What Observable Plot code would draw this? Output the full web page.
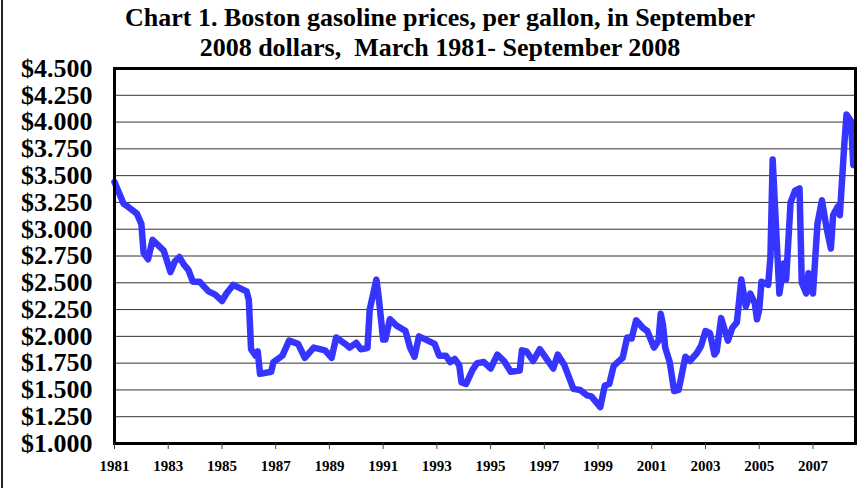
<!DOCTYPE html>
<html>
<head>
<meta charset="utf-8">
<script src="https://cdn.jsdelivr.net/npm/d3@7"></script>
<script src="https://cdn.jsdelivr.net/npm/@observablehq/plot@0.6"></script>
<style>
html, body { margin: 0; padding: 0; background: #fff; }
#wrap { position: relative; width: 866px; height: 488px; overflow: hidden; background: #fff; }
#wrap svg { position: absolute; left: 0; top: 0; }
#frameL { position: absolute; left: 1px; top: 0; width: 0; height: 488px; border-left: 2px solid #222; }
.title { position: absolute; left: 7px; width: 866px; text-align: center;
  font-family: "Liberation Serif", "Times New Roman", serif; font-weight: bold;
  font-size: 26px; line-height: 30px; white-space: pre; color: #000; }
</style>
</head>
<body>
<div id="wrap">
  <div id="frameL"></div>
  <div class="title" style="top:3px">Chart 1. Boston gasoline prices, per gallon, in September</div>
  <div class="title" style="top:33px">2008 dollars,  March 1981- September 2008</div>
</div>
<script>
const months = [
  "1981-03","1981-07","1981-09","1982-01","1982-03","1982-04","1982-06","1982-08",
  "1983-01","1983-04","1983-06","1983-08","1983-10","1983-12","1984-02","1984-05",
  "1984-09","1984-12","1985-03","1985-05","1985-08","1985-11","1986-02","1986-03",
  "1986-04","1986-06","1986-07","1986-08","1987-01","1987-02","1987-06","1987-09",
  "1988-01","1988-04","1988-08","1989-01","1989-04","1989-06","1989-10","1989-12",
  "1990-03","1990-05","1990-08","1990-09","1990-12","1991-01","1991-03","1991-04",
  "1991-06","1991-09","1992-01","1992-03","1992-05","1992-07","1992-11","1993-02",
  "1993-04","1993-07","1993-09","1993-11","1994-01","1994-02","1994-04","1994-07",
  "1994-09","1994-12","1995-03","1995-06","1995-09","1995-12","1996-04","1996-05",
  "1996-07","1996-10","1997-01","1997-04","1997-07","1997-09","1997-12","1998-04",
  "1998-07","1998-10","1998-12","1999-04","1999-06","1999-08","1999-10","2000-02",
  "2000-04","2000-06","2000-08","2000-11","2001-01","2001-04","2001-06","2001-07",
  "2001-08","2001-09","2001-11","2002-01","2002-03","2002-06","2002-08","2002-11",
  "2003-01","2003-03","2003-05","2003-07","2003-08","2003-10","2004-01","2004-03",
  "2004-05","2004-07","2004-09","2004-11","2005-01","2005-02","2005-03","2005-04",
  "2005-07","2005-08","2005-09","2005-11","2005-12","2006-02","2006-03","2006-05",
  "2006-07","2006-09","2006-10","2006-12","2007-01","2007-03","2007-05","2007-07",
  "2007-09","2007-11","2007-12","2008-02","2008-03","2008-05","2008-06","2008-08",
  "2008-09"
];
const prices = [
  3.44, 3.24, 3.21, 3.145, 3.05, 2.78, 2.72, 2.90,
  2.80, 2.60, 2.70, 2.74, 2.67, 2.62, 2.51, 2.51,
  2.42, 2.39, 2.33, 2.40, 2.48, 2.45, 2.42, 2.34,
  1.88, 1.82, 1.86, 1.65, 1.67, 1.76, 1.82, 1.96,
  1.93, 1.80, 1.895, 1.87, 1.80, 1.99, 1.93, 1.895,
  1.94, 1.88, 1.89, 2.25, 2.53, 2.37, 1.97, 1.97,
  2.16, 2.10, 2.05, 1.895, 1.81, 2.00, 1.96, 1.93,
  1.82, 1.82, 1.76, 1.79, 1.73, 1.57, 1.555, 1.69,
  1.75, 1.76, 1.70, 1.83, 1.77, 1.67, 1.68, 1.87,
  1.86, 1.77, 1.88, 1.79, 1.70, 1.83, 1.73, 1.51,
  1.50, 1.45, 1.44, 1.34, 1.54, 1.555, 1.725, 1.80,
  1.99, 1.98, 2.15, 2.08, 2.05, 1.895, 1.96, 2.21,
  2.11, 1.895, 1.76, 1.49, 1.50, 1.81, 1.77, 1.84,
  1.91, 2.05, 2.03, 1.83, 1.86, 2.17, 1.96, 2.08,
  2.13, 2.53, 2.28, 2.40, 2.31, 2.16, 2.25, 2.51,
  2.48, 2.74, 3.65, 2.81, 2.40, 2.68, 2.53, 3.25,
  3.36, 3.38, 2.50, 2.40, 2.59, 2.40, 3.05, 3.27,
  3.02, 2.82, 3.13, 3.21, 3.13, 3.79, 4.07, 4.01,
  3.60
];
// Axis tick labels
const xTickYears = [1981, 1983, 1985, 1987, 1989, 1991, 1993, 1995, 1997, 1999, 2001, 2003, 2005, 2007];
const yTickValues = [1.00, 1.25, 1.50, 1.75, 2.00, 2.25, 2.50, 2.75, 3.00, 3.25, 3.50, 3.75, 4.00, 4.25, 4.50];

// Category axis: months counted from March 1981 (first category)
const monthIndex = s => { const [y, m] = s.split("-").map(Number); return (y - 1981) * 12 + (m - 3); };
const data = months.map((m, i) => ({ t: monthIndex(m), price: prices[i] }));
const xTicks = xTickYears.map(y => (y - 1981) * 12);

const serif = "'Liberation Serif', 'Times New Roman', serif";

const chart = Plot.plot({
  width: 866,
  height: 488,
  marginLeft: 114,
  marginRight: 11,
  marginTop: 68,
  marginBottom: 45,
  style: { fontFamily: serif, background: "transparent", overflow: "visible" },
  x: { type: "linear", domain: [0, 331], label: null },
  y: { domain: [1, 4.5], label: null },
  marks: [
    Plot.ruleY(yTickValues.slice(1, -1), { stroke: "#333", strokeWidth: 1 }),
    Plot.line(data, { x: "t", y: "price", stroke: "#3535ff", strokeWidth: 6.5,
      strokeLinejoin: "round", strokeLinecap: "round" }),
    Plot.frame({ stroke: "#000", strokeWidth: 3 }),
    Plot.axisY({ ticks: yTickValues, tickSize: 0, tickPadding: 22, label: null,
      tickFormat: d => "$" + d.toFixed(3), fontSize: 26, fontWeight: "bold", fill: "#000" }),
    Plot.axisX({ ticks: xTicks, tickSize: 6, tickPadding: 11, stroke: "#444", label: null,
      tickFormat: d => String(1981 + d / 12), fontSize: 15, fontWeight: "bold", fill: "#000" })
  ]
});
document.getElementById("wrap").appendChild(chart);
</script>
</body>
</html>
